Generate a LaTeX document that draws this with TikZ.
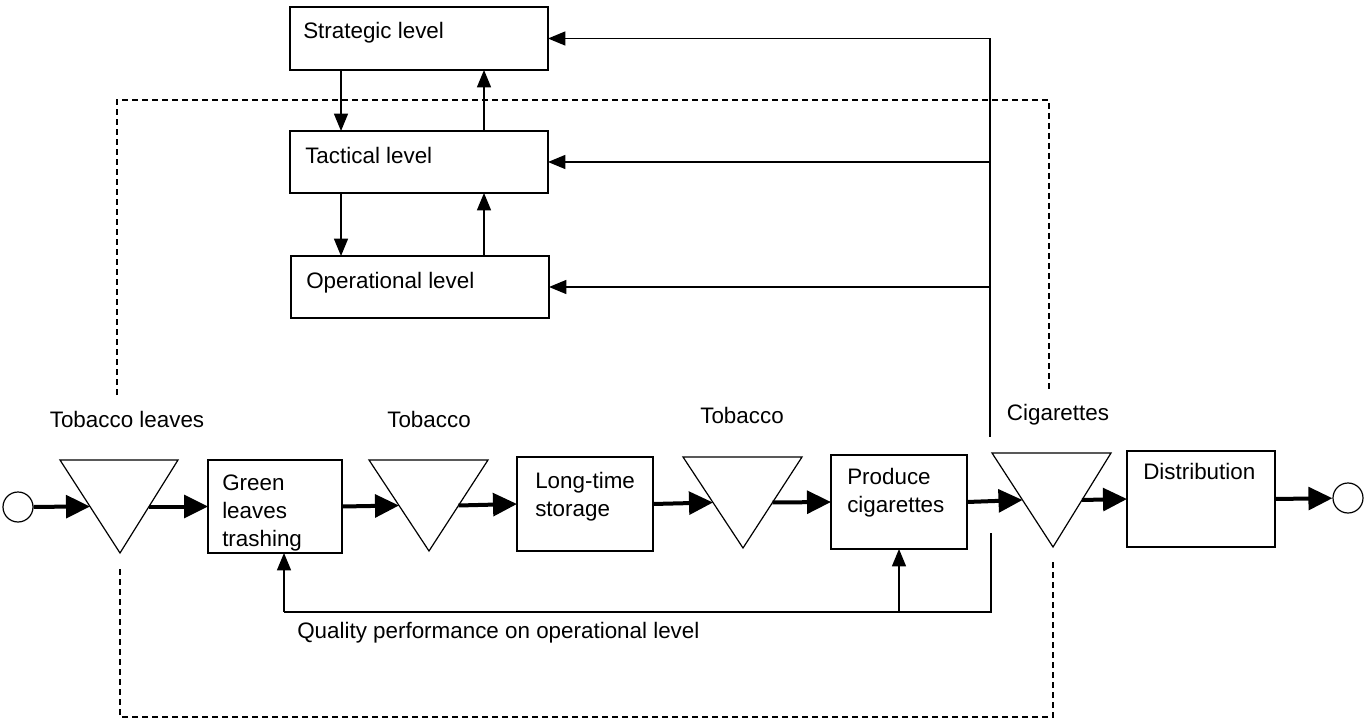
\documentclass[tikz,border=0pt]{standalone}
\usepackage{fontspec}
\setmainfont{Liberation Sans}
\usetikzlibrary{arrows.meta,calc}
\begin{document}
\begin{tikzpicture}[x=0.75pt,y=-0.75pt,
  font=\fontsize{16.8}{21}\selectfont,
  box/.style={draw,line width=0.9pt,inner sep=0pt,outer sep=0pt,anchor=north west},
  txt/.style={inner sep=0pt,anchor=north west,align=left},
  lbl/.style={inner sep=0pt,anchor=base},
  flow/.style={line width=3pt,-{Triangle[length=18pt,width=17pt]}},
  fb/.style={line width=1pt,-{Triangle[length=13pt,width=10.5pt]}},
  fbline/.style={line width=1pt},
  dsh/.style={line width=0.9pt,dash pattern=on 4.5pt off 3pt},
  tri/.style={line width=0.9pt,line join=miter},
  endc/.style={draw,circle,line width=0.9pt,minimum size=22.5pt,inner sep=0pt}]

\fill[white] (0,0) rectangle (1370,727);
\useasboundingbox (0,0) rectangle (1370,727);

% management levels
\node[box,minimum width=193.5pt,minimum height=47.25pt] (strat) at (290,7) {};
\node[txt] (stratT) at (303,22) {Strategic level};
\node[box,minimum width=193.5pt,minimum height=46.5pt] (tact) at (290,131) {};
\node[txt] (tactT) at (305,147) {Tactical level};
\node[box,minimum width=193.5pt,minimum height=46.5pt] (oper) at (291,256) {};
\node[txt] (operT) at (306,272) {Operational level};

% process boxes
\node[box,minimum width=100.5pt,minimum height=69.75pt] (green) at (208,460) {};
\node[txt] (greenT) at (222,475) {Green\\leaves\\trashing};
\node[box,minimum width=102pt,minimum height=70.5pt] (long) at (517,457) {};
\node[txt] (longT) at (535,472) {Long-time\\storage};
\node[box,minimum width=102pt,minimum height=70.5pt] (prod) at (831,455) {};
\node[txt] (prodT) at (847,468) {Produce\\cigarettes};
\node[box,minimum width=111pt,minimum height=72pt] (dist) at (1127,451) {};
\node[txt] (distT) at (1143,463) {Distribution};

% inventory triangles
\coordinate (t1a) at (60,460);  \coordinate (t1b) at (178,460);  \coordinate (t1c) at (120,553);
\coordinate (t2a) at (369,460); \coordinate (t2b) at (488,460);  \coordinate (t2c) at (429,551);
\coordinate (t3a) at (683,457); \coordinate (t3b) at (802,457);  \coordinate (t3c) at (743,548);
\coordinate (t4a) at (992,453); \coordinate (t4b) at (1111,453); \coordinate (t4c) at (1053,547);
\foreach \i in {1,2,3,4}{
  \draw[tri] (t\i a) -- (t\i b) -- (t\i c) -- cycle;
  \coordinate (t\i in) at ($(t\i a)!0.5!(t\i c)$);
  \coordinate (t\i out) at ($(t\i b)!0.5!(t\i c)$);
}

% source and sink
\node[endc] (src) at (18,507) {};
\node[endc] (snk) at (1348,498) {};

% material flow
\draw[flow] (src) -- (t1in);
\draw[flow] (t1out) -- (green.west);
\draw[flow] (green.east) -- (t2in);
\draw[flow] (t2out) -- (long.west);
\draw[flow] (long.east) -- (t3in);
\draw[flow] (t3out) -- (prod.west);
\draw[flow] (prod.east) -- (t4in);
\draw[flow] (t4out) -- (dist.west);
\draw[flow] (dist.east) -- (snk);

% labels
\node[lbl] (l1) at (127,427) {Tobacco leaves};
\node[lbl] (l2) at (429,427) {Tobacco};
\node[lbl] (l3) at (742,423) {Tobacco};
\node[lbl] (l4) at (1058,420) {Cigarettes};

% arrows between levels
\coordinate (xa) at (341,0);
\coordinate (xb) at (484,0);
\draw[fb] (strat.south -| xa) -- (tact.north -| xa);
\draw[fb] (tact.north -| xb) -- (strat.south -| xb);
\draw[fb] (tact.south -| xa) -- (oper.north -| xa);
\draw[fb] (oper.north -| xb) -- (tact.south -| xb);

% feedback to levels
\coordinate (fx) at (990,0);
\coordinate (fbot) at (990,437);
\draw[fbline] (strat.east -| fx) -- (fbot);
\draw[fb] (strat.east -| fx) -- (strat.east);
\draw[fb] (tact.east -| fx) -- (tact.east);
\draw[fb] (oper.east -| fx) -- (oper.east);

% quality loop
\coordinate (q0) at (991,533);
\coordinate (q1) at (991,612);
\coordinate (q2) at (284,612);
\draw[fbline] (q0) -- (q1) -- (q2);
\draw[fb] (q2) -- (q2 |- green.south);
\draw[fb] (prod.south |- q1) -- (prod.south);
\node[lbl,anchor=base west] (qT) at (297,638) {Quality performance on operational level};

% dashed information loops
\coordinate (d1) at (117,395); \coordinate (d2) at (117,100);
\coordinate (d3) at (1049,100); \coordinate (d4) at (1049,390);
\draw[dsh] (d1) -- (d2) -- (d3) -- (d4);
\coordinate (d5) at (1053,562); \coordinate (d6) at (1053,717);
\coordinate (d7) at (120,717); \coordinate (d8) at (120,568);
\draw[dsh] (d5) -- (d6) -- (d7) -- (d8);
\end{tikzpicture}
\end{document}
